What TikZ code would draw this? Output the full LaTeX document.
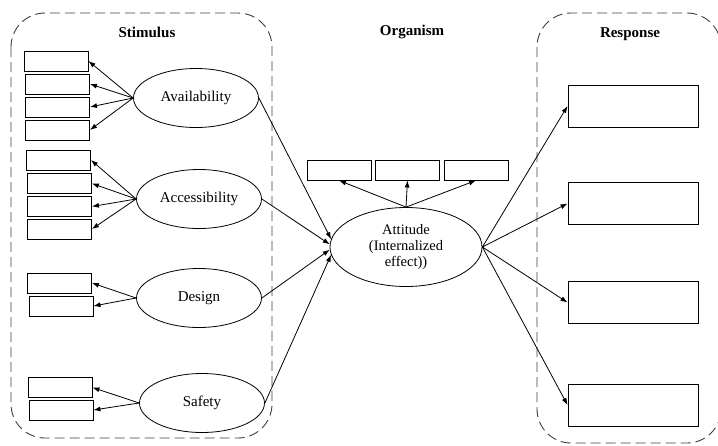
\documentclass[tikz,border=0pt]{standalone}
\usepackage{fontspec}
\setmainfont{Liberation Serif}
\usetikzlibrary{shapes.geometric,arrows.meta}
\begin{document}
\begin{tikzpicture}[x=1pt,y=-1pt,
  sbox/.style={draw,line width=0.9pt,minimum width=64pt,minimum height=20pt,inner sep=0pt},
  rbox/.style={draw,line width=0.9pt,minimum width=130pt,minimum height=42pt,inner sep=0pt},
  ell/.style={draw,ellipse,line width=0.8pt,minimum width=125pt,minimum height=59pt,inner sep=0pt,font=\fontsize{15}{17}\selectfont},
  arr/.style={-{Latex[length=7pt,width=5pt]},line width=0.8pt},
  cont/.style={draw=black!75,dash pattern=on 10pt off 5pt,line width=0.9pt,rounded corners=34pt},
  ttl/.style={font=\fontsize{15}{17}\selectfont\bfseries}]
\useasboundingbox (0,0) rectangle (718,445);
\clip (0,0) rectangle (718,445);
\fill[white] (0,0) rectangle (718,445);
% containers
\draw[cont] (11,13) rectangle (272,438);
\draw[cont] (537,13) rectangle (721,443);
% titles
\node[ttl] (stim) at (147,32) {Stimulus};
\node[ttl] (org) at (412,32) {Organism};
\node[ttl] (resp) at (630,34) {Response};
% ellipses
\node[ell] (av) at (196,98) {Availability};
\node[ell] (ac) at (199,199) {Accessibility};
\node[ell] (de) at (199,298) {Design};
\node[ell] (sa) at (202,403) {Safety};
\node[ell,minimum width=152pt,minimum height=79pt,align=center,font=\fontsize{14.5}{16}\selectfont] (att) at (406,247) {Attitude\\(Internalized\\effect))};
% left boxes
\node[sbox] (a1) at (56,61) {};
\node[sbox] (a2) at (57.5,84) {};
\node[sbox] (a3) at (57.5,107) {};
\node[sbox] (a4) at (57.5,130) {};
\node[sbox] (c1) at (58.5,160) {};
\node[sbox] (c2) at (59.5,183.5) {};
\node[sbox] (c3) at (59.5,206.5) {};
\node[sbox] (c4) at (59.5,229) {};
\node[sbox] (d1) at (59.5,283) {};
\node[sbox] (d2) at (61,306) {};
\node[sbox] (s1) at (60,387.5) {};
\node[sbox] (s2) at (61,410) {};
% top boxes
\node[sbox] (t1) at (339,170) {};
\node[sbox] (t2) at (407.5,170) {};
\node[sbox] (t3) at (476,170) {};
% response boxes
\node[rbox] (r1) at (633,106) {};
\node[rbox] (r2) at (633,203.5) {};
\node[rbox] (r3) at (633,302.5) {};
\node[rbox] (r4) at (633,405) {};
% arrows to left boxes
\foreach \b in {a1,a2,a3,a4} \draw[arr] (av.west) -- (\b.east);
\foreach \b in {c1,c2,c3,c4} \draw[arr] (ac.west) -- (\b.east);
\foreach \b in {d1,d2} \draw[arr] (de.west) -- (\b.east);
\foreach \b in {s1,s2} \draw[arr] (sa.west) -- (\b.east);
% arrows to top boxes
\foreach \b in {t1,t2,t3} \draw[arr] (att.north) -- (\b.south);
% arrows into attitude
\draw[arr] (av.east) -- (att.174);
\draw[arr] (ac.east) -- (att.178);
\draw[arr] (de.east) -- (att.182);
\draw[arr] (sa.east) -- (att.186);
% arrows to responses
\foreach \b in {r1,r2,r3,r4} \draw[arr] (att.east) -- (\b.west);
\end{tikzpicture}
\end{document}
